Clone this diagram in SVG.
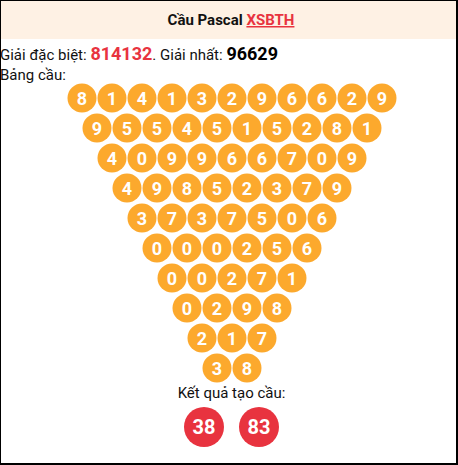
<svg xmlns="http://www.w3.org/2000/svg" width="458" height="465" viewBox="0 0 458 465">
<style>
text{font-family:Roboto,"Liberation Sans",sans-serif}
.b{fill:#fca92d}
.r{fill:#e8333f}
.d{fill:#fff;font-weight:bold;font-size:18px;text-anchor:middle;dominant-baseline:central}
.dr{fill:#fff;font-weight:bold;font-size:20px;text-anchor:middle;dominant-baseline:central}
.t{font-size:15px;fill:#111}
</style>
<rect x="0" y="0" width="458" height="465" fill="#000"/>
<rect x="1" y="1" width="455" height="462" fill="#fff"/>
<rect x="1" y="1" width="455" height="38" fill="#fef1e4"/>
<g id="title"><text x="231" y="25" text-anchor="middle" font-size="15" font-weight="bold" fill="#111">Cầu Pascal <tspan fill="#e8333f" text-decoration="underline">XSBTH</tspan></text></g>
<g id="info"><text class="t" x="0" y="60">Giải đặc biệt: <tspan font-size="18" font-weight="bold" fill="#e8333f">814132</tspan>. Giải nhất: <tspan font-size="18" font-weight="bold" fill="#000">96629</tspan></text>
<text class="t" x="0" y="80">Bảng cầu:</text></g>
<g id="row1">
<g id="n1_1"><circle class="b" cx="82" cy="98" r="14.5"/><text class="d" x="82" y="98">8</text></g>
<g id="n1_2"><circle class="b" cx="112" cy="98" r="14.5"/><text class="d" x="112" y="98">1</text></g>
<g id="n1_3"><circle class="b" cx="142" cy="98" r="14.5"/><text class="d" x="142" y="98">4</text></g>
<g id="n1_4"><circle class="b" cx="172" cy="98" r="14.5"/><text class="d" x="172" y="98">1</text></g>
<g id="n1_5"><circle class="b" cx="202" cy="98" r="14.5"/><text class="d" x="202" y="98">3</text></g>
<g id="n1_6"><circle class="b" cx="232" cy="98" r="14.5"/><text class="d" x="232" y="98">2</text></g>
<g id="n1_7"><circle class="b" cx="262" cy="98" r="14.5"/><text class="d" x="262" y="98">9</text></g>
<g id="n1_8"><circle class="b" cx="292" cy="98" r="14.5"/><text class="d" x="292" y="98">6</text></g>
<g id="n1_9"><circle class="b" cx="322" cy="98" r="14.5"/><text class="d" x="322" y="98">6</text></g>
<g id="n1_10"><circle class="b" cx="352" cy="98" r="14.5"/><text class="d" x="352" y="98">2</text></g>
<g id="n1_11"><circle class="b" cx="382" cy="98" r="14.5"/><text class="d" x="382" y="98">9</text></g>
</g>
<g id="row2">
<g id="n2_1"><circle class="b" cx="97" cy="128" r="14.5"/><text class="d" x="97" y="128">9</text></g>
<g id="n2_2"><circle class="b" cx="127" cy="128" r="14.5"/><text class="d" x="127" y="128">5</text></g>
<g id="n2_3"><circle class="b" cx="157" cy="128" r="14.5"/><text class="d" x="157" y="128">5</text></g>
<g id="n2_4"><circle class="b" cx="187" cy="128" r="14.5"/><text class="d" x="187" y="128">4</text></g>
<g id="n2_5"><circle class="b" cx="217" cy="128" r="14.5"/><text class="d" x="217" y="128">5</text></g>
<g id="n2_6"><circle class="b" cx="247" cy="128" r="14.5"/><text class="d" x="247" y="128">1</text></g>
<g id="n2_7"><circle class="b" cx="277" cy="128" r="14.5"/><text class="d" x="277" y="128">5</text></g>
<g id="n2_8"><circle class="b" cx="307" cy="128" r="14.5"/><text class="d" x="307" y="128">2</text></g>
<g id="n2_9"><circle class="b" cx="337" cy="128" r="14.5"/><text class="d" x="337" y="128">8</text></g>
<g id="n2_10"><circle class="b" cx="367" cy="128" r="14.5"/><text class="d" x="367" y="128">1</text></g>
</g>
<g id="row3">
<g id="n3_1"><circle class="b" cx="112" cy="158" r="14.5"/><text class="d" x="112" y="158">4</text></g>
<g id="n3_2"><circle class="b" cx="142" cy="158" r="14.5"/><text class="d" x="142" y="158">0</text></g>
<g id="n3_3"><circle class="b" cx="172" cy="158" r="14.5"/><text class="d" x="172" y="158">9</text></g>
<g id="n3_4"><circle class="b" cx="202" cy="158" r="14.5"/><text class="d" x="202" y="158">9</text></g>
<g id="n3_5"><circle class="b" cx="232" cy="158" r="14.5"/><text class="d" x="232" y="158">6</text></g>
<g id="n3_6"><circle class="b" cx="262" cy="158" r="14.5"/><text class="d" x="262" y="158">6</text></g>
<g id="n3_7"><circle class="b" cx="292" cy="158" r="14.5"/><text class="d" x="292" y="158">7</text></g>
<g id="n3_8"><circle class="b" cx="322" cy="158" r="14.5"/><text class="d" x="322" y="158">0</text></g>
<g id="n3_9"><circle class="b" cx="352" cy="158" r="14.5"/><text class="d" x="352" y="158">9</text></g>
</g>
<g id="row4">
<g id="n4_1"><circle class="b" cx="127" cy="188" r="14.5"/><text class="d" x="127" y="188">4</text></g>
<g id="n4_2"><circle class="b" cx="157" cy="188" r="14.5"/><text class="d" x="157" y="188">9</text></g>
<g id="n4_3"><circle class="b" cx="187" cy="188" r="14.5"/><text class="d" x="187" y="188">8</text></g>
<g id="n4_4"><circle class="b" cx="217" cy="188" r="14.5"/><text class="d" x="217" y="188">5</text></g>
<g id="n4_5"><circle class="b" cx="247" cy="188" r="14.5"/><text class="d" x="247" y="188">2</text></g>
<g id="n4_6"><circle class="b" cx="277" cy="188" r="14.5"/><text class="d" x="277" y="188">3</text></g>
<g id="n4_7"><circle class="b" cx="307" cy="188" r="14.5"/><text class="d" x="307" y="188">7</text></g>
<g id="n4_8"><circle class="b" cx="337" cy="188" r="14.5"/><text class="d" x="337" y="188">9</text></g>
</g>
<g id="row5">
<g id="n5_1"><circle class="b" cx="142" cy="218" r="14.5"/><text class="d" x="142" y="218">3</text></g>
<g id="n5_2"><circle class="b" cx="172" cy="218" r="14.5"/><text class="d" x="172" y="218">7</text></g>
<g id="n5_3"><circle class="b" cx="202" cy="218" r="14.5"/><text class="d" x="202" y="218">3</text></g>
<g id="n5_4"><circle class="b" cx="232" cy="218" r="14.5"/><text class="d" x="232" y="218">7</text></g>
<g id="n5_5"><circle class="b" cx="262" cy="218" r="14.5"/><text class="d" x="262" y="218">5</text></g>
<g id="n5_6"><circle class="b" cx="292" cy="218" r="14.5"/><text class="d" x="292" y="218">0</text></g>
<g id="n5_7"><circle class="b" cx="322" cy="218" r="14.5"/><text class="d" x="322" y="218">6</text></g>
</g>
<g id="row6">
<g id="n6_1"><circle class="b" cx="157" cy="248" r="14.5"/><text class="d" x="157" y="248">0</text></g>
<g id="n6_2"><circle class="b" cx="187" cy="248" r="14.5"/><text class="d" x="187" y="248">0</text></g>
<g id="n6_3"><circle class="b" cx="217" cy="248" r="14.5"/><text class="d" x="217" y="248">0</text></g>
<g id="n6_4"><circle class="b" cx="247" cy="248" r="14.5"/><text class="d" x="247" y="248">2</text></g>
<g id="n6_5"><circle class="b" cx="277" cy="248" r="14.5"/><text class="d" x="277" y="248">5</text></g>
<g id="n6_6"><circle class="b" cx="307" cy="248" r="14.5"/><text class="d" x="307" y="248">6</text></g>
</g>
<g id="row7">
<g id="n7_1"><circle class="b" cx="172" cy="278" r="14.5"/><text class="d" x="172" y="278">0</text></g>
<g id="n7_2"><circle class="b" cx="202" cy="278" r="14.5"/><text class="d" x="202" y="278">0</text></g>
<g id="n7_3"><circle class="b" cx="232" cy="278" r="14.5"/><text class="d" x="232" y="278">2</text></g>
<g id="n7_4"><circle class="b" cx="262" cy="278" r="14.5"/><text class="d" x="262" y="278">7</text></g>
<g id="n7_5"><circle class="b" cx="292" cy="278" r="14.5"/><text class="d" x="292" y="278">1</text></g>
</g>
<g id="row8">
<g id="n8_1"><circle class="b" cx="187" cy="308" r="14.5"/><text class="d" x="187" y="308">0</text></g>
<g id="n8_2"><circle class="b" cx="217" cy="308" r="14.5"/><text class="d" x="217" y="308">2</text></g>
<g id="n8_3"><circle class="b" cx="247" cy="308" r="14.5"/><text class="d" x="247" y="308">9</text></g>
<g id="n8_4"><circle class="b" cx="277" cy="308" r="14.5"/><text class="d" x="277" y="308">8</text></g>
</g>
<g id="row9">
<g id="n9_1"><circle class="b" cx="202" cy="338" r="14.5"/><text class="d" x="202" y="338">2</text></g>
<g id="n9_2"><circle class="b" cx="232" cy="338" r="14.5"/><text class="d" x="232" y="338">1</text></g>
<g id="n9_3"><circle class="b" cx="262" cy="338" r="14.5"/><text class="d" x="262" y="338">7</text></g>
</g>
<g id="row10">
<g id="n10_1"><circle class="b" cx="217" cy="368" r="14.5"/><text class="d" x="217" y="368">3</text></g>
<g id="n10_2"><circle class="b" cx="247" cy="368" r="14.5"/><text class="d" x="247" y="368">8</text></g>
</g>
<g id="result"><text class="t" x="231.5" y="398" text-anchor="middle">Kết quả tạo cầu:</text></g>
<g id="res1"><circle class="r" cx="204" cy="427" r="20"/><text class="dr" x="204" y="427">38</text></g>
<g id="res2"><circle class="r" cx="259" cy="427" r="20"/><text class="dr" x="259" y="427">83</text></g>
<g id="connectors"/>
</svg>
